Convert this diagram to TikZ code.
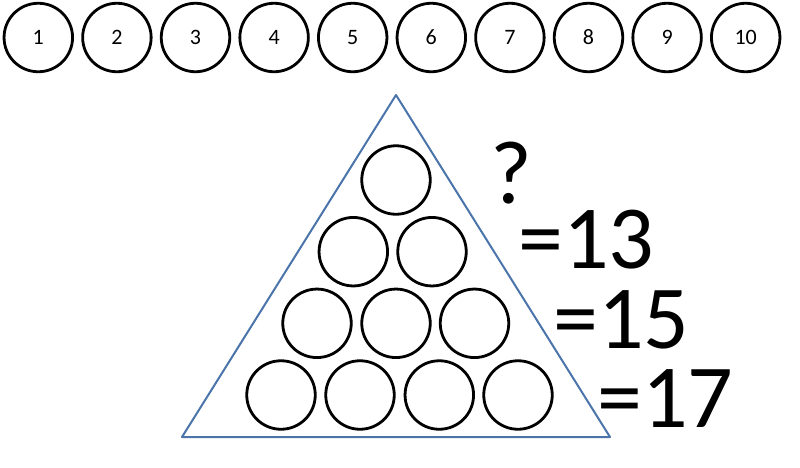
\documentclass[tikz,border=0pt]{standalone}
\usepackage{fontspec}
\setmainfont{Carlito}
\definecolor{triblue}{RGB}{74,116,170}
\begin{document}
\begin{tikzpicture}[x=1pt, y=-1pt, line join=round, line cap=round,
	ball/.style={draw, circle, line width=2.8pt, minimum size=68.5pt, inner sep=0pt},
	big/.style={font=\fontsize{90}{90}\selectfont, anchor=base west, inner sep=0pt}]
	\useasboundingbox (0,0) rectangle (800,467);
	\foreach \i in {1,...,10} \node[ball, font=\fontsize{22}{22}\selectfont] (t\i) at ({38.3+78.6*(\i-1)},37.5) {\i};
	\draw[triblue, line width=2pt] (396,95) coordinate (apex) -- (610,437) coordinate (br) -- (182,437) coordinate (bl) -- cycle;
	\foreach \x/\y/\n in {396/180/a1, 353.3/251.7/b1, 432/251.7/b2, 317/323.3/c1, 396/323.3/c2, 474.5/323.3/c3, 281/395/d1, 360/395/d2, 439.3/395/d3, 518/395/d4}
		\node[ball] (\n) at (\x,\y) {};
	\node[big] (q) at (490,203) {?};
	\node[big] (s13) at (518,268) {=13};
	\node[big] (s15) at (553,348) {=15};
	\node[big] (s17) at (597,427) {=17};
\end{tikzpicture}
\end{document}
